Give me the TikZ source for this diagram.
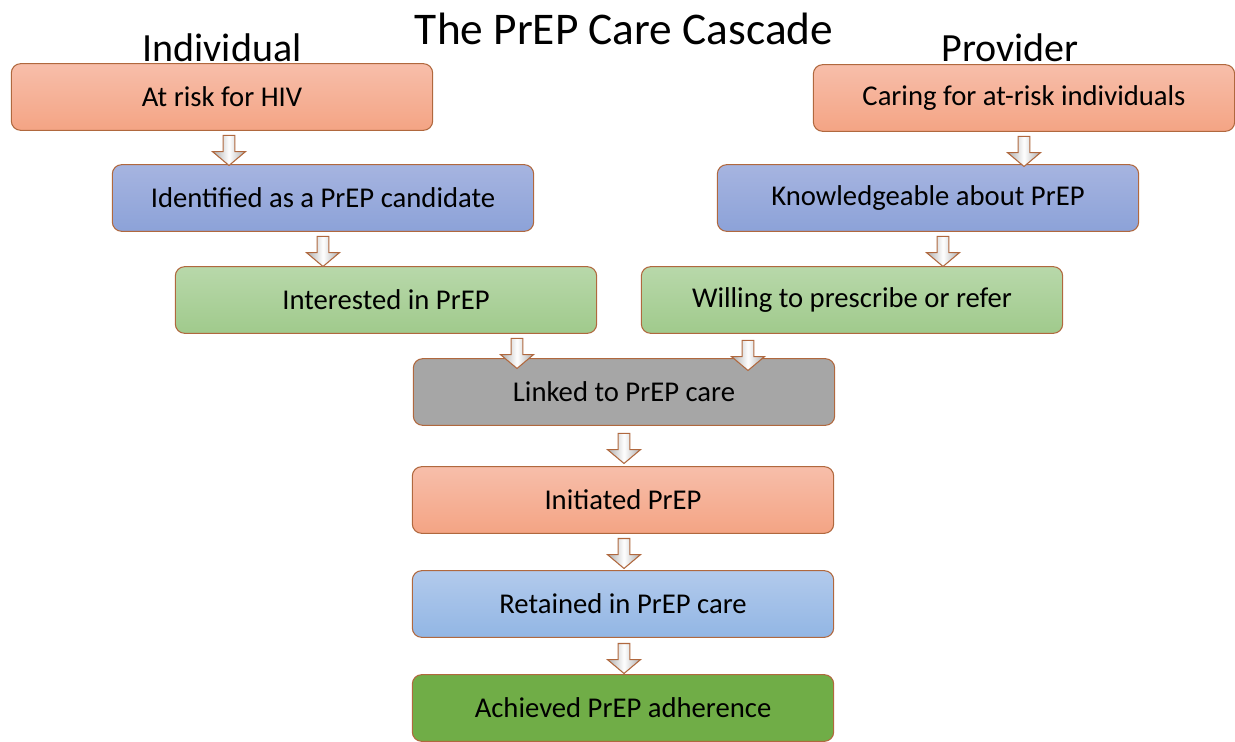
\documentclass[tikz,border=0pt]{standalone}
\usepackage{fontspec}
\setmainfont{Carlito}
\usetikzlibrary{shapes.arrows}
\definecolor{edgebrown}{RGB}{176,104,62}
\definecolor{salmontop}{RGB}{247,190,170}
\definecolor{salmonbot}{RGB}{244,164,132}
\definecolor{bluetop}{RGB}{166,180,224}
\definecolor{bluebot}{RGB}{140,162,216}
\definecolor{greentop}{RGB}{184,216,170}
\definecolor{greenbot}{RGB}{160,202,140}
\definecolor{lbluetop}{RGB}{178,202,236}
\definecolor{lbluebot}{RGB}{146,182,228}
\definecolor{darkgreen}{RGB}{112,173,71}
\definecolor{midgray}{RGB}{166,166,166}
\tikzset{
  stage/.style={draw=edgebrown,line width=0.8pt,rounded corners=7pt,
    minimum width=316pt,minimum height=50pt,font=\fontsize{21.5}{24}\selectfont},
  salmon/.style={stage,top color=salmontop,bottom color=salmonbot},
  bluish/.style={stage,top color=bluetop,bottom color=bluebot},
  greenish/.style={stage,top color=greentop,bottom color=greenbot},
  lblue/.style={stage,top color=lbluetop,bottom color=lbluebot},
  blockarrow/.style={single arrow,shape border rotate=270,draw=edgebrown,
    line width=0.8pt,inner sep=4pt,minimum height=22.5pt,
    single arrow head extend=8pt,single arrow tip angle=100,
    left color=gray!65,right color=gray!65,middle color=white},
  heading/.style={font=\fontsize{30}{34}\selectfont}
}
\begin{document}
\begin{tikzpicture}[x=0.75pt,y=-0.75pt]
\useasboundingbox (0,0) rectangle (1235,742);
% headings
\node[font=\fontsize{34}{38}\selectfont] (title) at (624,29) {The PrEP Care Cascade};
\node[heading] (indiv) at (222,48) {Individual};
\node[heading] (prov) at (1010,48) {Provider};
% individual side
\node[salmon] (risk) at (222,97) {At risk for HIV};
\node[bluish] (ident) at (323,198) {Identified as a PrEP candidate};
\node[greenish] (inter) at (386,300) {Interested in PrEP};
% provider side
\node[salmon] (caring) at (1024,98) {Caring for at-risk individuals};
\node[bluish] (know) at (928,198) {Knowledgeable about PrEP};
\node[greenish] (will) at (852,300) {Willing to prescribe or refer};
% shared cascade
\node[stage,fill=midgray] (linked) at (624,392) {Linked to PrEP care};
\node[salmon] (init) at (623,500) {Initiated PrEP};
\node[lblue] (retain) at (623,604) {Retained in PrEP care};
\node[stage,fill=darkgreen] (adher) at (623,708) {Achieved PrEP adherence};
% block arrows
\node[blockarrow] (a1) at (229,148) {};
\node[blockarrow] (a2) at (323,249) {};
\node[blockarrow] (a3) at (517,351) {};
\node[blockarrow] (a4) at (1024,149) {};
\node[blockarrow] (a5) at (943,249) {};
\node[blockarrow] (a6) at (748,353) {};
\node[blockarrow] (a7) at (624,446) {};
\node[blockarrow] (a8) at (624,551) {};
\node[blockarrow] (a9) at (624,656) {};
\end{tikzpicture}
\end{document}
